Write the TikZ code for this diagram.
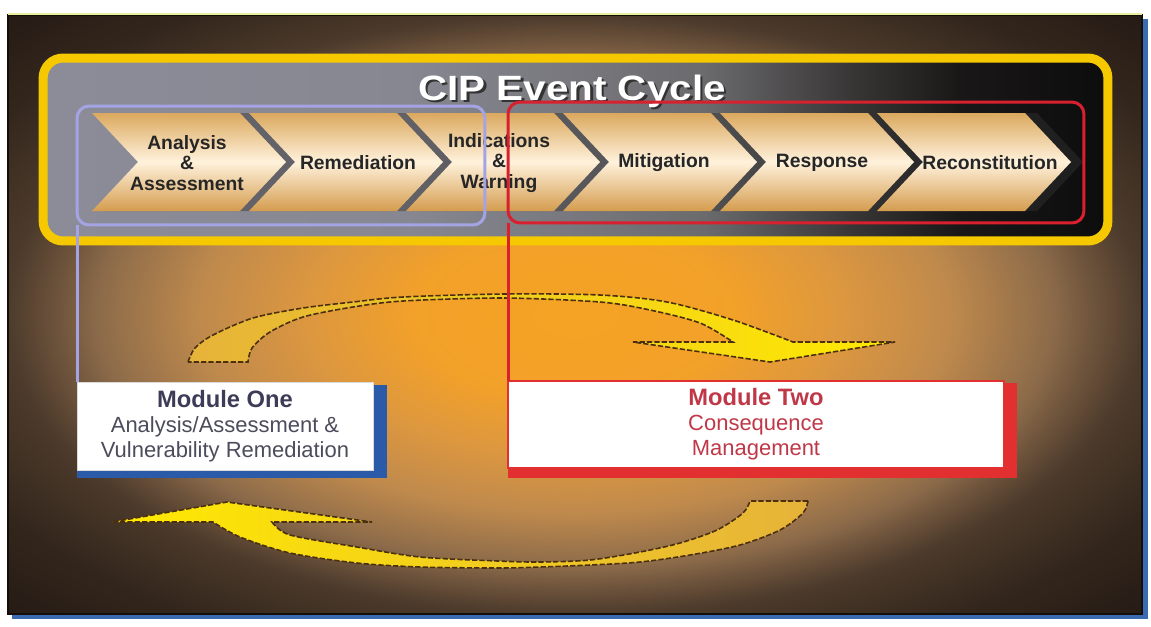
\documentclass[tikz,border=0pt]{standalone}
\usepackage{graphicx}
\usepackage{fontspec}
\setmainfont{Liberation Sans}
\usetikzlibrary{positioning, backgrounds}

\definecolor{cipyellow}{HTML}{F6C800}
\definecolor{chevtop}{HTML}{DBA85E}
\definecolor{chevcream}{HTML}{FFF2DC}
\definecolor{chevbottom}{HTML}{D49C4E}
\definecolor{lavender}{HTML}{A4A4E4}
\definecolor{phasered}{HTML}{D8202E}
\definecolor{modblue}{HTML}{2A5AA8}
\definecolor{modred}{HTML}{E23030}
\definecolor{modslate}{HTML}{3C3C58}
\definecolor{modgray}{HTML}{4C4C5C}
\definecolor{modrose}{HTML}{C03848}
\definecolor{arrowgold}{HTML}{E6B33A}
\definecolor{arrowlemon}{HTML}{FFEA00}
\definecolor{arrowedge}{HTML}{4A3010}
\definecolor{frameblue}{HTML}{3A6AB0}
\definecolor{frameedge}{HTML}{140E08}
\definecolor{frametop}{HTML}{E8F0A0}

% glow behind the whole slide
\pgfdeclareradialshading{glow}{\pgfpoint{0bp}{0bp}}{%
  rgb(0bp)=(0.96,0.64,0.14);
  rgb(7bp)=(0.95,0.63,0.16);
  rgb(12bp)=(0.86,0.59,0.25);
  rgb(16.5bp)=(0.75,0.54,0.3);
  rgb(21bp)=(0.55,0.42,0.29);
  rgb(23bp)=(0.42,0.32,0.23);
  rgb(25bp)=(0.3,0.23,0.17);
  rgb(30bp)=(0.2,0.15,0.11);
  rgb(36bp)=(0.14,0.1,0.08);
  rgb(50bp)=(0.14,0.1,0.08)}
% gray to black inside the yellow frame
\pgfdeclarehorizontalshading{panelfade}{100bp}{%
  rgb(0bp)=(0.55,0.55,0.6);
  rgb(25bp)=(0.55,0.55,0.6);
  rgb(42bp)=(0.53,0.53,0.57);
  rgb(56bp)=(0.42,0.42,0.43);
  rgb(63bp)=(0.22,0.21,0.21);
  rgb(68bp)=(0.1,0.09,0.09);
  rgb(75bp)=(0.05,0.05,0.05);
  rgb(100bp)=(0.05,0.05,0.05)}

\tikzset{
    % Panel and stages
    panel/.style = {draw=cipyellow, line width=0.18cm, rounded corners=0.4cm, shade, shading=panelfade, inner sep=0pt, outer sep=0pt},
    titletext/.style = {font=\fontsize{20}{24}\selectfont\bfseries, anchor=base, inner sep=0pt},
    stageband/.style = {fill=black!80, fill opacity=0.45},
    stagebody/.style = {top color=chevtop, bottom color=chevbottom, middle color=chevcream},
    stagetext/.style = {font=\fontsize{11}{11.5}\selectfont\bfseries, text=black!85, align=center, inner sep=0pt},
    % Module groupings
    phase/.style = {rectangle, rounded corners=0.24cm, line width=0.06cm, inner sep=0pt, outer sep=0pt},
    phaseline/.style = {line width=0.06cm},
    modbox/.style = {rectangle, fill=white, align=center, inner sep=0pt, outer sep=0pt, font=\fontsize{12.5}{14.2}\selectfont},
    % Cycle arrows
    cyclearrow/.style = {draw=arrowedge, line width=0.9pt, dash pattern=on 3pt off 1.2pt}
}

% one stage of the cycle, #1 = left edge
\newcommand{\cipchevron}[1]{%
    \path[stageband] (#1+12,-113) -- (#1+160,-113) -- (#1+206,-162) -- (#1+160,-211) -- (#1+12,-211) -- (#1+58,-162) -- cycle;
    \path[stagebody] (#1,-113) -- (#1+148,-113) -- (#1+194,-162) -- (#1+148,-211) -- (#1,-211) -- (#1+46,-162) -- cycle;
}

\begin{document}
\begin{tikzpicture}[x=0.02cm, y=0.02cm]
    \useasboundingbox (0,0) rectangle (1151,-626);

    \begin{scope}[on background layer]
        \fill[frameblue] (12,-19) rectangle (1148,-619);
        \shade[shading=glow, draw=frameedge, line width=0.04cm] (8,-15) rectangle (1142,-614);
        \draw[frametop, line width=0.03cm] (8,-14) -- (1142,-14);
    \end{scope}

    \node (eventcycle) [panel, minimum width=21.3cm, minimum height=3.66cm] at (575.5,-149.5) {};
    \node (titleshade) [titletext, text=black!80] at (574.5,-102.5) {\scalebox{1.15}[1]{CIP Event Cycle}};
    \node (title) [titletext, text=white] at (572,-100) {\scalebox{1.15}[1]{CIP Event Cycle}};

    \cipchevron{92}
    \cipchevron{249}
    \cipchevron{406}
    \cipchevron{563}
    \cipchevron{720}
    \cipchevron{877}

    \node (analysis) [stagetext] at (187,-163) {Analysis\\\&\\Assessment};
    \node (remediation) [stagetext] at (358,-163) {Remediation};
    \node (warning) [stagetext] at (499,-163) {Indications\\\&\\Warning};
    \node (mitigation) [stagetext] at (664,-163) {Mitigation};
    \node (response) [stagetext] at (822,-163) {Response};
    \node (reconstitution) [stagetext] at (990,-163) {Reconstitution};

    \node (phaseone) [phase, draw=lavender, minimum width=8.16cm, minimum height=2.38cm] at (281,-165.5) {};
    \node (phasetwo) [phase, draw=phasered, minimum width=11.52cm, minimum height=2.42cm] at (796,-162.5) {};

    % upper arrow, pointing right
    \path[cyclearrow, left color=arrowgold, right color=arrowlemon]
        plot[smooth] coordinates {(188,-362) (195,-348) (213,-335) (253,-318) (303,-308) (353,-302) (403,-297) (503,-294) (600,-295) (667,-302) (733,-320) (793,-342)}
        -- (895,-342) -- (770,-362) -- (633,-342) -- (733,-342)
        -- plot[smooth] coordinates {(733,-342) (700,-323) (650,-310) (600,-302) (503,-298) (403,-301) (353,-307) (303,-317) (270,-332) (252,-348) (248,-362)}
        -- cycle;
    % lower arrow, pointing left
    \path[cyclearrow, left color=arrowlemon, right color=arrowgold]
        plot[smooth] coordinates {(808,-501) (803,-513) (780,-530) (740,-545) (690,-555) (640,-562) (590,-565) (540,-567) (498,-568) (420,-567) (357,-563) (290,-553) (240,-537) (213,-522)}
        -- (112,-522) -- (227,-502) -- (372,-522) -- (272,-522)
        -- plot[smooth] coordinates {(272,-522) (290,-535) (357,-547) (420,-557) (498,-561) (540,-562) (590,-560) (640,-552) (680,-543) (717,-530) (743,-513) (750,-501)}
        -- cycle;

    \node (modone) [modbox, draw=black!15, thin, text=modgray, minimum width=5.92cm, minimum height=1.76cm] at (225,-426)
        {\textcolor{modslate}{\fontsize{13.5}{14.2}\selectfont\bfseries Module One}\\Analysis/Assessment \&\\Vulnerability Remediation};
    \node (modtwo) [modbox, draw=modred, line width=0.05cm, text=modrose, minimum width=9.92cm, minimum height=1.74cm] at (756,-424.5)
        {{\fontsize{13.5}{14.2}\selectfont\bfseries Module Two}\\Consequence\\Management};

    \begin{scope}[on background layer]
        \fill[modblue] ([yshift=-0.06cm]modone.north west) rectangle ([shift={(0.28cm,-0.16cm)}]modone.south east);
        \fill[modred] ([yshift=-0.04cm]modtwo.north west) rectangle ([shift={(0.26cm,-0.2cm)}]modtwo.south east);
    \end{scope}

    \draw[phaseline, lavender] (phaseone.south west) -- (phaseone.south west |- modone.north);
    \draw[phaseline, phasered] (phasetwo.south west) -- (phasetwo.south west |- modtwo.north);
\end{tikzpicture}
\end{document}
